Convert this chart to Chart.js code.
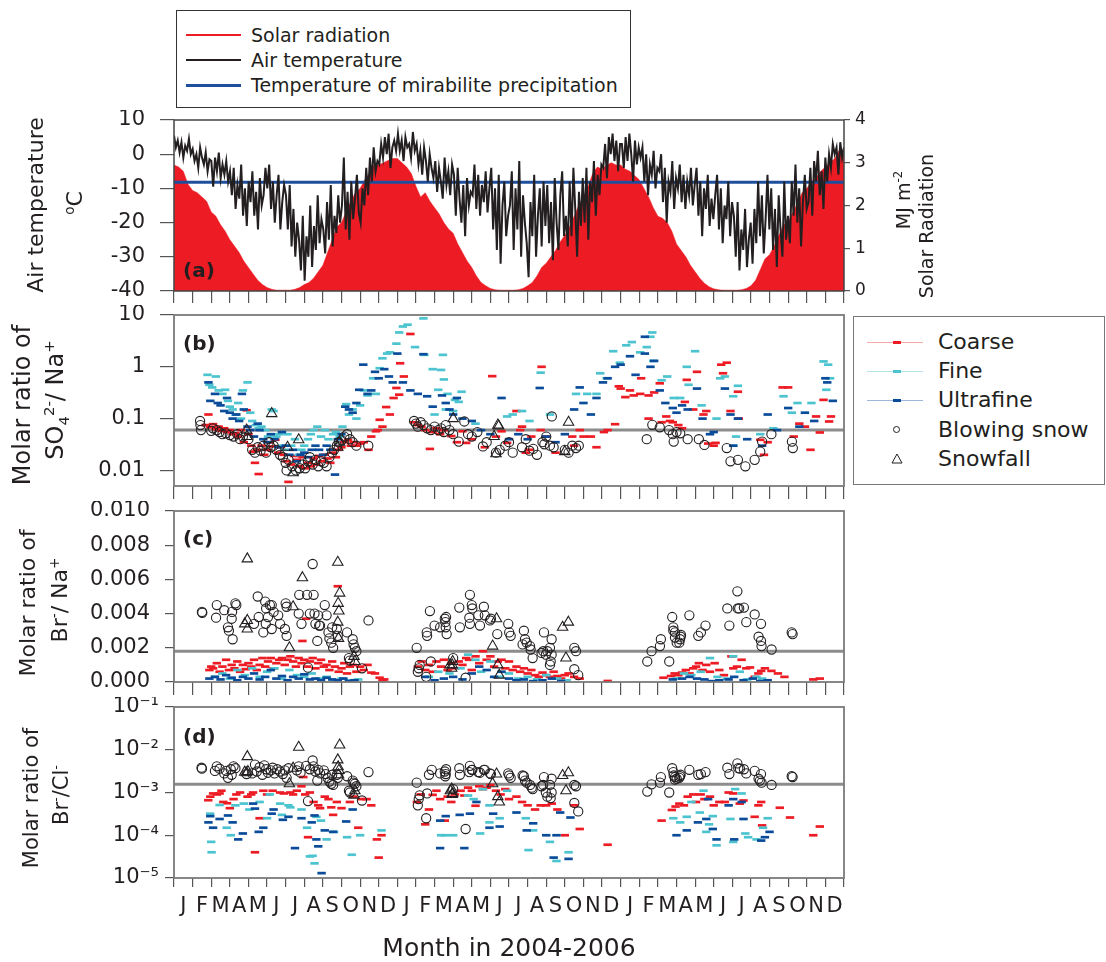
<!DOCTYPE html>
<html><head><meta charset="utf-8">
<script src="https://cdn.jsdelivr.net/npm/chart.js@4.4.1/dist/chart.umd.min.js"></script>
<style>
body{margin:0;background:#fff;width:1106px;height:962px;position:relative;overflow:hidden;font-family:"DejaVu Sans",sans-serif;color:#231f20}
canvas{position:absolute;left:0}
.rot{position:absolute;transform:translate(-50%,-50%) rotate(-90deg);white-space:nowrap;line-height:1}
.lbl{position:absolute;font-weight:bold;font-size:20px;transform:translateY(-50%);line-height:1}
.lg{position:absolute;box-sizing:border-box;background:#fff}
.lt{position:absolute;transform:translateY(-50%);white-space:nowrap;line-height:1}
.ln{position:absolute}
sup,sub{font-size:62%;line-height:0}
</style></head><body>
<canvas id="ca" width="1106" height="200" style="top:110px"></canvas>
<canvas id="cb" width="1106" height="200" style="top:305px"></canvas>
<canvas id="cc" width="1106" height="200" style="top:501px"></canvas>
<canvas id="cd" width="1106" height="265" style="top:697px"></canvas>

<div class="lg" style="left:176px;top:10px;width:455px;height:98px;border:1.6px solid #333"></div>
<div class="ln" style="left:186px;top:34px;width:55px;height:1.5px;background:#ed1c24"></div>
<div class="lt" style="left:251px;top:35px;font-size:19px">Solar radiation</div>
<div class="ln" style="left:186px;top:59px;width:55px;height:1.5px;background:#231f20"></div>
<div class="lt" style="left:251px;top:60px;font-size:19px">Air temperature</div>
<div class="ln" style="left:186px;top:83.5px;width:55px;height:3px;background:#1f4f9c"></div>
<div class="lt" style="left:251px;top:85px;font-size:19px">Temperature of mirabilite precipitation</div>

<div class="lg" style="left:853px;top:316px;width:252px;height:169px;border:1.5px solid #777"></div>
<div class="ln" style="left:867px;top:342px;width:56px;height:1px;background:#f5a9ab"></div>
<div class="ln" style="left:893px;top:341px;width:8px;height:3px;background:#ed1c24"></div>
<div class="lt" style="left:938px;top:342px;font-size:22px">Coarse</div>
<div class="ln" style="left:867px;top:371px;width:56px;height:1px;background:#b3e4ea"></div>
<div class="ln" style="left:893px;top:370px;width:8px;height:3px;background:#4cc4d0"></div>
<div class="lt" style="left:938px;top:371px;font-size:22px">Fine</div>
<div class="ln" style="left:867px;top:400px;width:56px;height:1px;background:#9db8dc"></div>
<div class="ln" style="left:893px;top:399px;width:8px;height:3px;background:#0a4c9a"></div>
<div class="lt" style="left:938px;top:400px;font-size:22px">Ultrafine</div>
<div class="ln" style="left:893px;top:426px;width:7px;height:7px;border:1px solid #231f20;border-radius:50%;box-sizing:border-box"></div>
<div class="lt" style="left:938px;top:430px;font-size:22px">Blowing snow</div>
<svg style="position:absolute;left:891px;top:453px" width="12" height="11"><polygon points="6,1 11,10 1,10" fill="none" stroke="#231f20" stroke-width="1"/></svg>
<div class="lt" style="left:938px;top:459px;font-size:22px">Snowfall</div>

<div class="rot" style="left:36px;top:205px;font-size:22px">Air temperature</div>
<div class="rot" style="left:75px;top:203px;font-size:22px"><sup>o</sup>C</div>
<div class="rot" style="left:903px;top:200px;font-size:19px">MJ m<sup>-2</sup></div>
<div class="rot" style="left:926px;top:226px;font-size:19px">Solar Radiation</div>
<div class="rot" style="left:22px;top:405px;font-size:24px">Molar ratio of</div>
<div class="rot" style="left:55px;top:400px;font-size:24px">SO<sub>4</sub><sup>2-</sup>/ Na<sup>+</sup></div>
<div class="rot" style="left:28px;top:603px;font-size:22px">Molar ratio of</div>
<div class="rot" style="left:60px;top:600px;font-size:22px">Br<sup>-</sup>/ Na<sup>+</sup></div>
<div class="rot" style="left:31px;top:798px;font-size:21px">Molar ratio of</div>
<div class="rot" style="left:61px;top:795px;font-size:21px">Br<sup>-</sup>/Cl<sup>-</sup></div>
<div class="lbl" style="left:183px;top:270px">(a)</div>
<div class="lbl" style="left:183px;top:343px">(b)</div>
<div class="lbl" style="left:183px;top:538px">(c)</div>
<div class="lbl" style="left:183px;top:736px">(d)</div>

<script>
// ---------- axis labels ----------
const monthLetters = ['J','F','M','A','M','J','J','A','S','O','N','D'];
const monthLabels = monthLetters.concat(monthLetters, monthLetters);
const xTitle = 'Month in 2004-2006';
const aTickValues = [-40,-30,-20,-10,0,10];
const a2TickValues = [0,1,2,3,4];
const bTickValues = [0.01,0.1,1,10];
const bTickLabels = ['0.01','0.1','1','10'];
const cTickValues = [0,0.002,0.004,0.006,0.008,0.010];
const cTickLabels = ['0.000','0.002','0.004','0.006','0.008','0.010'];
const dTickValues = [1e-5,1e-4,1e-3,1e-2,1e-1];
const dTickLabels = ['10\u207B\u2075','10\u207B\u2074','10\u207B\u00B3','10\u207B\u00B2','10\u207B\u00B9'];

// ---------- panel (a): air temperature sampled 10 per month, Jan 2004 - Dec 2006 ----------
const airTemp = [
 5.5,2,4,0.5,3.5,-1,2.5,1,4.5,0,  1.5,-2,0,-4,2,-1,-3,0.5,-5,-1.5,  -2,-9.5,-1,-5,0.5,-7,-3,-6,-2,-8,
 -5,-12,-4,-16,-9,-13,-3,-18,-10,-21,  -8,-14,-5,-18,-11,-22,-7,-15,-12,-4,  -10,-3,-16,-8,-20,-12,-6,-22,-14,-9,
 -12,-22,-9,-27,-16,-30,-20,-25,-34,-18,  -37,-24,-30,-15,-33,-21,-28,-12,-26,-19,  -22,-29,-14,-25,-9,-27,-18,-23,-12,-20,
 -15,-1,-22,-11,-25,-8,-19,-13,-6,-17,  -20,-10,-15,-4,-12,-1,-8,2,-5,-2,  -3,3,-1,5,0,6,-4,2,4,1,
 6,1,4,-2,5,2,3,-1,6.5,1,  3,-3,1,-6,2,-2,-8,0,-4,-7,  -2,-11,-4,-8,-13,-1,-9,-5,-12,-3,
 -6,-18,-4,-13,-20,-9,-24,-7,-15,-11,  -12,-3,-16,-6,-18,-9,-14,-5,-17,-10,  -4,-22,-10,-28,-6,-32,-15,-8,-24,-18,
 -15,-5,-28,-10,-22,-2,-30,-12,-20,-26,  -36,-14,-24,-6,-30,-18,-10,-27,-8,-21,  -9,-26,-14,-31,-7,-20,-28,-12,-5,-24,
 -18,-27,-8,-24,-4,-16,-30,-11,-21,-7,  -20,-4,-25,-8,-14,-2,-18,-6,-12,-3,  -4,3,-7,5,0,6,-2,4,-5,3,
 3,-4,5,-2,6,0,-8,4,-3,2,  -1,2,-8,0,-12,-3,-6,1,-10,-4,  -5,0,-14,-4,-20,-8,-11,-2,-16,-7,
 -10,-3,-14,-6,-16,-8,-12,-4,-15,-9,  -4,-18,-8,-24,-10,-16,-6,-21,-13,-19,  -12,-6,-22,-10,-26,-15,-19,-8,-24,-14,
 -18,-30,-14,-34,-22,-28,-16,-33,-25,-20,  -32,-16,-26,-8,-24,-12,-29,-19,-6,-22,  -10,-28,-16,-33,-12,-22,-30,-8,-25,-18,
 -26,-8,-18,-3,-20,-10,-27,-14,-6,-16,  -14,-4,-18,-2,-8,1,-12,-5,-16,-1,  -8,0,-4,3,0,2,-6,3.5,-1,2
];
const solarRad = [
 2.95,2.9,2.8,2.5, 2.35,2.3,2.2,2.1, 1.85,1.75,1.55,1.4, 1.2,1.05,0.9,0.7, 0.55,0.4,0.25,0.15, 0.08,0.04,0.02,0.02,
 0.02,0.02,0.04,0.08, 0.15,0.2,0.3,0.45, 0.6,0.9,1.2,1.5, 1.6,1.85,2.1,2.3, 2.4,2.6,2.75,2.95, 2.95,3.0,3.05,3.1,
 3.1,3.0,2.9,2.75, 2.45,2.2,2.3,2.1, 1.95,1.8,1.6,1.45, 1.35,1.1,0.9,0.7, 0.55,0.35,0.2,0.12, 0.06,0.03,0.02,0.02,
 0.02,0.02,0.03,0.06, 0.12,0.2,0.35,0.55, 0.65,0.8,0.95,1.15, 1.3,1.5,1.75,2.0, 2.2,2.45,2.75,2.9, 2.85,2.95,3.0,2.95,
 2.95,2.85,2.8,2.7, 2.6,2.4,2.2,1.95, 1.75,1.7,1.6,1.4, 1.1,0.95,0.8,0.6, 0.45,0.3,0.18,0.1, 0.05,0.03,0.02,0.02,
 0.02,0.02,0.03,0.06, 0.12,0.25,0.5,0.75, 0.85,1.05,1.3,1.55, 1.6,1.85,2.05,2.3, 2.4,2.55,2.65,2.8, 2.9,3.0,3.1,3.3, 3.3
];
const mirabiliteTemp = -8.2;

// ---------- panel (b): SO4 2- / Na+ ----------
const bCoarse = [[1.70,0.075],[1.85,0.12],[1.95,0.068],[2.10,0.078],[2.25,0.062],[2.40,0.07],[2.55,0.058],[2.70,0.065],[2.85,0.055],[3.00,0.06],[3.15,0.05],[3.30,0.052],[3.45,0.045],[3.60,0.06],[3.75,0.035],[3.90,0.145],[4.00,0.05],[4.15,0.03],[4.25,0.023],[4.35,0.014],[4.45,0.025],[4.55,0.0085],[4.70,0.03],[4.85,0.02],[5.00,0.025],[5.15,0.035],[5.30,0.029],[5.45,0.039],[5.60,0.022],[5.75,0.028],[5.90,0.02],[6.05,0.015],[6.15,0.006],[6.30,0.013],[6.45,0.019],[6.60,0.016],[6.75,0.012],[6.90,0.018],[7.05,0.011],[7.20,0.014],[7.35,0.012],[7.50,0.017],[7.65,0.013],[7.80,0.019],[7.95,0.015],[8.10,0.02],[8.25,0.017],[8.40,0.014],[8.55,0.022],[8.70,0.018],[8.85,0.025],[9.00,0.028],[9.15,0.035],[9.35,0.039],[9.50,0.03],[9.65,0.035],[9.80,0.03],[10.00,0.033],[10.20,0.035],[10.45,0.025],[10.60,0.045],[10.85,0.057],[10.95,0.06],[11.05,0.095],[11.20,0.07],[11.40,0.167],[11.60,0.12],[11.80,0.25],[11.95,0.39],[12.10,0.29],[12.15,1.17],[12.35,0.65],[12.70,4.3],
 [12.90,0.085],[13.10,0.075],[13.30,0.07],[13.50,0.06],[13.75,0.026],[13.90,0.055],[14.10,0.065],[14.30,0.05],[14.50,0.06],[14.90,0.046],[15.20,0.035],[15.50,0.057],[15.70,0.034],[16.00,0.04],[16.70,0.028],[17.10,0.66],[17.30,0.045],[17.60,0.057],[17.90,0.034],[18.40,0.14],[18.60,0.06],[18.70,0.07],[18.90,0.022],[19.10,0.025],[19.20,0.045],[19.70,0.06],[19.75,1.0],[20.00,0.045],[20.50,0.022],[21.40,0.045],[21.50,0.03],[21.80,0.06],[22.00,0.045],[22.40,0.045],[22.70,0.028],[23.10,0.055],[23.30,0.06],[23.70,0.078],
 [23.90,0.42],[24.00,0.38],[24.25,0.26],[24.50,0.35],[24.70,0.28],[25.05,0.3],[25.10,0.6],[25.50,0.28],[25.50,0.1],[25.80,0.32],[26.10,0.48],[26.20,0.085],[26.45,0.11],[26.65,0.09],[26.80,0.085],[27.10,0.075],[27.30,0.065],[27.45,0.21],[27.55,0.56],[27.90,0.15],[28.10,0.8],[28.45,0.12],[28.60,0.14],[28.70,0.033],[29.00,0.03],[29.10,0.034],[29.40,1.1],[29.50,0.75],[29.70,1.2],[29.90,0.14],[30.30,0.33],[30.35,0.1],[31.50,0.039],[31.70,0.02],[31.90,0.035],[32.70,0.4],[33.00,0.4],[33.30,0.045],[33.60,0.08],[33.90,0.07],[34.20,0.025],[34.50,0.11],[34.70,0.054],[34.90,0.23],[35.20,0.088],[35.30,0.11]];
const bFine = [[1.80,0.7],[1.90,0.45],[2.05,0.4],[2.25,0.65],[2.40,0.35],[2.60,0.3],[2.75,0.36],[2.90,0.22],[3.00,0.17],[3.15,0.15],[3.30,0.12],[3.45,0.2],[3.60,0.1],[3.70,0.35],[3.95,0.5],[4.10,0.13],[4.20,0.09],[4.40,0.075],[4.55,0.065],[4.70,0.07],[4.90,0.06],[5.05,0.045],[5.25,0.15],[5.35,0.14],[5.50,0.045],[5.65,0.05],[5.80,0.03],[5.95,0.025],[6.10,0.05],[6.30,0.03],[6.50,0.04],[6.70,0.02],[6.85,0.025],[7.00,0.03],[7.20,0.04],[7.35,0.05],[7.50,0.06],[7.70,0.07],[7.90,0.045],[8.10,0.06],[8.30,0.04],[8.55,0.05],[8.70,0.055],[8.90,0.045],[9.05,0.07],[9.25,0.19],[9.40,0.12],[9.60,0.15],[9.80,0.1],[10.00,0.18],[10.20,0.35],[10.40,0.28],[10.70,0.6],[10.85,0.3],[11.05,0.94],[11.20,1.46],[11.45,1.8],[11.60,1.9],[11.95,2.8],[12.10,4.6],[12.30,6],[12.55,6.5],[12.95,2.4],[13.40,8.6],[13.45,1.7],[13.90,0.9],[14.20,0.36],[14.00,0.12],
 [14.45,1.7],[14.35,0.87],[14.50,0.57],[14.70,0.3],[15.10,0.23],[15.30,0.21],[15.45,0.33],[14.60,0.15],[15.00,0.14],[16.20,0.08],[17.90,0.11],[18.20,0.12],[18.70,0.14],[19.10,0.09],[19.70,0.77],[20.20,0.12],[21.60,0.3],[22.20,0.3],[22.70,0.3],[22.90,0.75],[23.25,0.6],[23.60,2.0],[23.95,1.2],[24.30,2.6],[24.60,3.0],[25.05,1.9],[25.40,2.4],[25.60,3.8],[25.70,4.6],[25.75,1.3],[26.20,0.55],[26.50,0.65],[26.85,0.25],[27.20,0.25],[27.55,1.0],[27.65,0.45],[28.00,2.0],[28.35,0.18],[29.15,0.1],[29.35,0.6],[29.60,0.65],[30.05,0.27],[30.30,0.43],[30.20,0.045],[30.05,0.03],[31.50,0.05],[32.20,0.065],[32.75,0.27],[33.20,0.13],[33.50,0.2],[34.25,0.2],[34.90,1.27],[35.15,1.1],[35.25,0.6],[35.05,0.36]];
const bUltra = [[1.85,0.5],[1.95,0.22],[2.20,0.3],[2.35,0.2],[2.50,0.18],[2.70,0.14],[2.85,0.25],[3.00,0.13],[3.15,0.1],[3.35,0.12],[3.50,0.09],[3.65,0.3],[3.75,0.15],[3.95,0.07],[4.10,0.06],[4.30,0.045],[4.50,0.08],[4.60,0.06],[4.80,0.04],[5.00,0.035],[5.20,0.05],[5.40,0.04],[5.60,0.028],[5.80,0.055],[6.00,0.03],[6.20,0.02],[6.40,0.025],[6.60,0.015],[6.80,0.02],[7.00,0.022],[7.20,0.018],[7.40,0.025],[7.60,0.03],[7.80,0.025],[8.00,0.02],[8.20,0.03],[8.40,0.025],[8.65,0.0083],[8.80,0.04],[9.00,0.05],[9.20,0.17],[9.40,0.15],[9.60,0.13],[9.80,0.2],[9.95,0.36],[10.17,1.1],[10.40,0.3],[10.60,0.35],[10.80,0.8],[11.00,0.6],[11.30,0.9],[11.55,0.65],[11.75,0.5],[12.00,1.8],[12.30,0.5],[12.70,0.35],[13.10,0.3],[13.40,1.75],[13.60,0.27],[13.90,0.17],
 [14.40,0.28],[14.60,0.2],[14.80,0.15],[15.00,0.12],[15.20,0.25],[15.50,0.1],[16.00,0.09],[16.50,0.06],[17.00,0.05],[17.60,0.25],[18.00,0.04],[18.50,0.05],[19.00,0.04],[19.65,0.39],[20.00,0.045],[20.50,0.035],[21.00,0.05],[21.50,0.15],[21.80,0.4],[22.00,0.2],[22.40,0.12],[22.70,0.25],[23.05,0.5],[23.30,0.6],[23.70,1.0],[24.00,1.1],[24.50,1.6],[24.80,0.7],[25.30,3.8],[25.30,1.8],[25.60,1.0],[25.80,1.3],[26.10,0.35],[26.40,0.2],[26.80,0.16],[27.00,0.13],[27.30,0.18],[27.60,0.15],[28.10,0.38],[28.40,0.1],[28.80,0.05],[29.00,0.055],[29.60,0.38],[29.90,0.12],[30.30,0.1],[30.05,0.03],[30.80,0.04],[31.60,0.03],[31.90,0.12],[32.40,0.06],[33.00,0.16],[33.60,0.07],[33.90,0.13],[34.40,0.09],[35.00,0.6],[35.10,0.5],[35.40,0.22]];
const bSnow = [[1.40,0.09],[1.42,0.075],[1.45,0.06],[2.00,0.058],[2.10,0.065],[2.30,0.06],[2.45,0.055],[2.60,0.05],[2.80,0.052],[3.00,0.048],[3.20,0.045],[3.40,0.05],[3.55,0.04],[3.70,0.045],[4.00,0.04],[4.20,0.025],[4.35,0.022],[4.50,0.028],[4.65,0.024],[4.80,0.03],[4.95,0.022],[5.10,0.035],[5.20,0.028],[5.35,0.03],[5.50,0.025],[5.70,0.02],[5.85,0.018],[6.00,0.014],[6.05,0.01],[6.15,0.016],[6.35,0.012],[6.55,0.01],[6.75,0.011],[6.90,0.013],[7.05,0.011],[7.20,0.015],[7.30,0.018],[7.45,0.013],[7.60,0.016],[7.75,0.012],[7.90,0.015],[8.05,0.014],[8.20,0.012],[8.35,0.018],[8.50,0.022],[8.60,0.025],[8.75,0.03],[8.85,0.035],[9.00,0.038],[9.15,0.045],[9.30,0.05],[9.45,0.04],[9.60,0.035],[9.80,0.03],[10.44,0.03],
 [12.90,0.09],[13.00,0.08],[13.10,0.07],[13.25,0.085],[13.40,0.075],[13.60,0.065],[13.80,0.06],[14.00,0.07],[14.20,0.06],[14.35,0.065],[14.50,0.055],[14.60,0.075],[14.80,0.06],[15.00,0.05],[15.30,0.036],[15.60,0.088],[15.80,0.05],[16.00,0.045],[16.30,0.055],[16.60,0.029],[16.80,0.035],[17.30,0.022],[17.50,0.025],[17.80,0.03],[18.00,0.035],[18.20,0.022],[18.70,0.028],[18.90,0.04],[19.10,0.024],[19.30,0.026],[19.50,0.02],[19.80,0.035],[19.90,0.032],[20.00,0.045],[20.20,0.03],[20.30,0.11],[20.40,0.028],[21.00,0.025],[21.20,0.022],[21.40,0.03],[21.60,0.027],[21.75,0.03],
 [25.40,0.04],[25.70,0.076],[26.10,0.068],[26.60,0.06],[26.80,0.05],[26.85,0.036],[27.00,0.055],[27.20,0.052],[27.60,0.04],[28.20,0.04],[28.50,0.031],[29.70,0.027],[29.90,0.015],[30.30,0.016],[30.70,0.012],[31.20,0.016],[31.50,0.023],[31.60,0.036],[32.10,0.05],[33.20,0.036],[33.25,0.027]];
const bFall = [[3.90,0.06],[3.92,0.045],[5.25,0.125],[6.10,0.028],[6.40,0.009],[6.70,0.039],[8.80,0.028],[8.90,0.035],[15.00,0.1],[17.20,0.045],[17.30,0.021],[17.40,0.075],[17.45,0.072],[21.00,0.023],[21.20,0.085]];
const bRef = 0.06;

// ---------- panel (c): Br- / Na+ ----------
const cCoarse = [[1.90,0.0007],[2.00,0.0009],[2.10,0.0008],[2.30,0.0011],[2.45,0.0006],[2.60,0.0009],[2.80,0.0013],[2.95,0.0007],[3.10,0.001],[3.25,0.0008],[3.40,0.0012],[3.55,0.0006],[3.70,0.001],[3.85,0.00075],[4.00,0.0011],[4.15,0.0009],[4.30,0.0013],[4.45,0.0007],[4.60,0.001],[4.75,0.0014],[4.90,0.0009],[5.05,0.0012],[5.20,0.0014],[5.35,0.0008],[5.50,0.0011],[5.65,0.0013],[5.80,0.0014],[5.95,0.001],[6.10,0.0013],[6.25,0.0015],[6.40,0.0012],[6.55,0.0009],[6.70,0.0014],[6.85,0.0011],[6.90,0.0024],[7.00,0.0013],[7.10,0.0037],[7.15,0.0009],[7.30,0.0012],[7.45,0.0014],[7.60,0.0008],[7.75,0.0011],[7.90,0.0013],[8.05,0.0009],[8.20,0.001],[8.35,0.0007],[8.50,0.0012],[8.65,0.0009],[8.80,0.0056],[8.85,0.0006],[9.00,0.0008],[9.15,0.0011],[9.30,0.0005],[9.45,0.0009],[9.60,0.001],[9.80,0.0006],[10.00,0.0009],[10.20,0.0007],[10.40,0.001],[10.60,0.00055],[10.80,0.0005],[11.05,0.00025],[11.20,0.0001],[11.30,0.00015],
 [13.10,0.0009],[13.30,0.0012],[13.50,0.0007],[13.70,0.001],[13.90,0.0006],[14.10,0.0012],[14.35,0.0009],[14.50,0.0013],[14.70,0.0007],[14.90,0.0011],[15.10,0.0008],[15.30,0.0012],[15.50,0.001],[15.70,0.0014],[15.85,0.0013],[16.00,0.0007],[16.20,0.0015],[16.40,0.0011],[16.60,0.0018],[16.80,0.0013],[17.00,0.0015],[17.20,0.0009],[17.40,0.0012],[17.60,0.0013],[17.80,0.0008],[18.00,0.0012],[18.20,0.0007],[18.40,0.0009],[18.60,0.0006],[18.80,0.0008],[19.00,0.0005],[19.20,0.0007],[19.40,0.0004],[19.60,0.0003],[19.80,0.00055],[20.00,0.0004],[20.20,0.0003],[20.40,0.0006],[20.60,0.00035],[20.80,0.0002],[21.00,0.0004],[21.20,0.0005],[21.50,0.0003],[21.80,0.0002],[23.30,0.00006],
 [26.30,0.00025],[26.70,0.00035],[26.90,0.0005],[27.10,0.0004],[27.30,0.00055],[27.50,0.0007],[27.70,0.0005],[27.90,0.0008],[28.05,0.0009],[28.20,0.0011],[28.40,0.0007],[28.60,0.001],[28.80,0.0006],[29.05,0.0011],[29.30,0.0007],[29.55,0.0004],[29.95,0.0015],[30.05,0.0008],[30.25,0.0009],[30.50,0.0013],[30.75,0.0008],[30.95,0.00085],[31.20,0.0003],[31.40,0.0005],[31.55,0.00065],[31.75,0.0008],[32.10,0.00065],[32.45,0.0005],[32.80,0.0003],[34.35,0.00015],[34.70,0.0002]];
const cFine = [[2.20,0.0003],[2.60,0.0005],[3.00,0.0002],[3.40,0.0007],[3.80,0.0004],[4.20,0.0008],[4.60,0.0003],[5.00,0.0006],[5.40,0.0008],[5.80,0.0002],[6.20,0.0007],[6.60,0.0004],[7.00,0.0003],[7.40,0.0005],[7.80,0.0002],[8.20,0.0003],[8.60,0.0001],[9.00,0.0002],[9.40,0.0001],[9.90,0.00015],
 [13.70,0.0003],[14.20,0.0006],[14.80,0.0005],[15.40,0.0008],[15.80,0.0016],[16.20,0.0013],[16.50,0.0006],[17.00,0.0012],[17.50,0.0003],[18.00,0.0005],[18.50,0.0002],[19.00,0.0003],[19.50,0.00015],[20.00,0.0004],[20.60,0.0002],[21.10,0.0001],
 [27.00,0.0002],[27.40,0.0005],[27.80,0.0004],[28.30,0.0006],[28.80,0.0014],[29.20,0.0003],[29.70,0.0002],[30.05,0.0015],[30.40,0.0006],[30.80,0.00015],[31.30,0.0003],[31.60,0.0002]];
const cUltra = [[1.90,0.0002],[2.20,0.0003],[2.50,0.00015],[2.80,0.0004],[3.10,0.00025],[3.40,0.0001],[3.70,0.0003],[4.00,0.0002],[4.30,0.0005],[4.60,0.00015],[4.90,0.0003],[5.20,0.0007],[5.50,0.0002],[5.80,0.00035],[6.10,0.0001],[6.40,0.0003],[6.70,0.0002],[7.00,0.00045],[7.30,0.00015],[7.60,0.0002],[7.90,0.0001],[8.20,0.00025],[8.50,0.00015],[8.80,0.0001],[9.10,0.0002],[9.40,0.00005],[9.70,0.0001],
 [13.50,0.0003],[14.00,0.0001],[14.50,0.0002],[15.00,0.0003],[15.50,0.00015],[16.00,0.0005],[16.40,0.0009],[16.80,0.0007],[17.20,0.0003],[17.60,0.0006],[18.00,0.0002],[18.40,0.0001],[18.80,0.00015],[19.30,0.00005],[19.80,0.0001],[20.30,0.0002],[20.80,0.00005],
 [26.80,0.00015],[27.30,0.0002],[27.70,0.0003],[28.10,0.0002],[28.50,0.00015],[28.90,0.00005],[29.30,0.0001],[29.80,0.00015],[30.10,0.0003],[30.60,0.0001],[31.10,0.0002],[31.50,0.00005],[31.90,0.0001]];
const cSnow = [[1.50,0.0041],[1.52,0.00405],[2.30,0.0045],[2.26,0.00376],[2.70,0.0042],[2.90,0.0032],[2.95,0.003],[3.10,0.0037],[3.12,0.0041],[3.15,0.0025],[3.30,0.0046],[3.35,0.0045],[4.30,0.0034],[4.50,0.005],[4.55,0.0038],[4.80,0.0029],[4.90,0.0047],[4.95,0.0043],[4.93,0.0034],[5.05,0.0038],[5.15,0.0045],[5.25,0.0045],[5.25,0.0031],[5.35,0.0041],[5.60,0.0039],[5.70,0.0034],[5.96,0.0031],[6.00,0.0046],[6.05,0.0027],[6.05,0.0044],[6.70,0.004],[6.73,0.0051],[6.85,0.0034],[7.15,0.0051],[7.20,0.00084],[7.30,0.004],[7.45,0.0069],[7.50,0.0051],[7.55,0.004],[7.60,0.0034],[7.70,0.0024],[7.75,0.0039],[7.80,0.0033],[7.85,0.0033],[8.10,0.0045],[8.20,0.0039],[8.30,0.0029],[8.35,0.00255],[8.45,0.0023],[8.50,0.0032],[8.55,0.002],[8.75,0.0031],[8.80,0.0027],[9.30,0.0029],[9.40,0.0014],[9.45,0.00125],[9.60,0.0025],[9.65,0.0022],[9.72,0.002],[9.80,0.0018],[10.10,0.0008],[10.45,0.0036],
 [13.04,0.002],[13.10,0.0006],[13.15,0.0008],[13.20,0.001],[13.58,0.0029],[13.60,0.0027],[13.55,0.0003],[13.75,0.00415],[13.80,0.0012],[14.00,0.0033],[14.30,0.0032],[14.55,0.0037],[14.58,0.0035],[14.62,0.0038],[14.65,0.0028],[14.60,0.0032],[15.00,0.0014],[15.33,0.00435],[15.36,0.0032],[15.67,0.00025],[15.87,0.00376],[15.90,0.0051],[15.90,0.0034],[16.03,0.0043],[16.00,0.0045],[16.35,0.0039],[16.44,0.0033],[16.70,0.0039],[16.65,0.0044],[16.98,0.0036],[17.03,0.0037],[17.37,0.0028],[17.96,0.0034],[18.01,0.0029],[18.09,0.0027],[18.73,0.0022],[18.80,0.003],[18.86,0.0025],[18.95,0.0023],[19.13,0.0021],[19.16,0.0019],[19.27,0.0014],[19.75,0.0017],[19.84,0.0018],[19.88,0.0029],[19.98,0.0016],[20.06,0.0018],[20.20,0.002],[20.29,0.0025],[20.24,0.0012],[20.20,0.001],[20.29,0.0016],[21.51,0.002],[21.60,0.0018],[21.51,0.00075],[21.72,0.0004],
 [25.43,0.0012],[25.66,0.0018],[26.11,0.0021],[26.16,0.0025],[26.61,0.0012],[26.77,0.0038],[26.83,0.0032],[26.83,0.003],[26.92,0.0029],[26.92,0.0026],[27.01,0.0023],[27.15,0.0023],[27.22,0.00265],[27.24,0.00275],[27.19,0.0025],[27.69,0.0039],[28.17,0.0027],[28.31,0.0029],[28.56,0.0033],[29.73,0.0043],[29.84,0.0033],[30.27,0.0053],[30.29,0.0043],[30.37,0.0043],[30.62,0.00435],[30.75,0.0035],[31.20,0.00395],[31.41,0.00265],[31.54,0.0024],[31.57,0.0021],[31.54,0.0034],[32.11,0.0019],[33.19,0.0029],[33.24,0.0028]];
const cFall = [[3.94,0.0072],[3.80,0.0034],[3.94,0.0036],[3.94,0.0031],[6.40,0.0044],[6.20,0.002],[6.90,0.0061],[8.80,0.007],[8.90,0.0052],[8.82,0.0046],[8.86,0.00415],[8.80,0.0035],[8.84,0.00255],[9.67,0.0015],[9.72,0.0012],[14.92,0.0008],[14.95,0.001],[14.97,0.0012],[14.83,0.001],[17.12,0.0021],[17.33,0.0037],[17.40,0.001],[17.48,0.0004],[20.88,0.0032],[21.19,0.0035],[21.06,0.0014]];
const cRef = 0.0018;

// ---------- panel (d): Br- / Cl- ----------
const dCoarse = [[1.84,0.00066],[1.95,0.0008],[2.10,0.00095],[2.30,0.0009],[2.45,0.00095],[2.55,0.0011],[2.65,0.0006],[2.85,0.00056],[3.00,0.00043],[3.20,0.0007],[3.35,0.0009],[3.55,0.001],[3.95,0.0008],[4.15,0.0009],[4.25,0.001],[4.35,0.00004],[4.60,0.00025],[4.80,0.0011],[5.00,0.0009],[5.30,0.0011],[5.70,0.001],[5.90,0.00095],[6.25,0.001],[6.40,0.0009],[6.60,0.0011],[6.85,0.0014],[6.95,0.0023],[7.05,0.0009],[7.30,0.001],[7.20,0.00009],[7.50,0.0006],[7.75,0.0005],[7.85,0.00043],[8.10,0.0008],[8.30,0.0007],[8.45,0.00045],[8.55,0.0003],[8.75,0.0006],[9.00,0.00043],[9.45,0.0006],[9.65,0.0008],[9.90,0.00015],[10.10,0.0007],[10.35,0.0007],[10.60,0.0005],[10.90,0.00008],[11.00,0.00003],[11.15,0.0001],
 [13.05,0.0006],[13.25,0.0009],[13.50,0.00018],[13.70,0.0004],[13.90,0.00088],[14.10,0.0011],[14.30,0.0007],[14.55,0.00022],[14.70,0.0008],[14.90,0.0006],[15.10,0.0009],[15.40,0.0011],[15.60,0.00085],[15.80,0.0013],[16.00,0.0011],[16.20,0.00049],[16.40,0.0014],[16.60,0.0012],[16.80,0.0013],[17.00,0.0015],[17.30,0.0011],[17.55,0.0009],[17.80,0.0012],[18.00,0.0007],[18.40,0.0008],[18.70,0.0006],[19.00,0.0005],[19.40,0.0004],[19.70,0.0005],[20.00,0.0005],[20.30,0.00055],[20.60,0.0004],[21.00,0.0001],[21.50,0.0005],[21.80,0.00014],[23.30,0.00006],
 [26.20,0.00022],[26.75,0.00039],[26.95,0.00047],[27.15,0.00055],[27.40,0.0005],[27.60,0.0008],[27.90,0.0009],[28.05,0.0006],[28.30,0.0009],[28.50,0.0007],[28.80,0.0008],[29.00,0.0005],[29.30,0.0006],[29.60,0.0006],[29.80,0.001],[30.05,0.00095],[30.40,0.00055],[30.60,0.00065],[31.20,0.00027],[31.40,0.0005],[31.55,0.0006],[31.60,0.00017],[32.55,0.00044],[33.10,0.00026],[34.35,0.0001],[34.70,0.00016]];
const dFine = [[1.94,0.00032],[2.00,0.00007],[2.02,0.00004],[2.45,0.00051],[2.83,0.00015],[3.05,0.0001],[3.30,0.0005],[3.75,0.00055],[4.05,0.0004],[4.60,0.0006],[5.00,0.00025],[5.15,0.0009],[5.70,0.00055],[5.80,0.0003],[6.15,0.0005],[6.25,0.00045],[6.85,0.0004],[7.15,0.00015],[7.30,0.000032],[7.45,0.000033],[7.55,0.000022],[7.65,0.00027],[7.90,0.00022],[8.20,0.00008],[8.60,0.00012],[9.30,0.00009],[9.55,0.000035],[10.00,0.0001],[11.15,0.00013],
 [14.35,0.0001],[14.55,0.0001],[15.00,0.0001],[15.80,0.00085],[16.10,0.0007],[16.60,0.0012],[16.45,0.00011],[16.95,0.0002],[17.50,0.00025],[17.90,0.0011],[16.95,0.0005],[18.90,0.00025],[19.05,0.000045],[19.30,0.00013],[20.20,0.00007],[20.55,0.000025],[21.20,0.00004],
 [26.83,0.00025],[27.20,0.0002],[27.55,0.00027],[27.80,0.0006],[28.25,0.00034],[28.45,0.0011],[28.60,0.00012],[28.75,0.00018],[28.95,0.00028],[29.15,0.000058],[29.90,0.00024],[30.05,0.00007],[30.15,0.0012],[30.50,0.00095],[30.70,0.00011],[30.85,0.00009],[31.30,0.00008],[31.65,0.00015],[31.90,0.00025]];
const dUltra = [[1.85,0.0002],[1.95,0.00028],[2.10,0.00015],[2.45,0.00024],[2.90,0.00029],[3.15,0.0002],[3.45,0.00008],[3.70,0.00011],[4.25,0.00055],[4.35,0.00042],[4.55,0.00012],[4.80,0.00015],[5.25,0.00032],[5.35,0.0004],[5.85,0.00023],[6.15,0.00027],[6.50,0.00005],[6.85,0.00025],[7.40,0.0002],[7.55,0.00029],[7.65,0.00008],[7.75,0.000055],[7.93,0.000013],[8.10,0.00013],[8.55,0.00012],[9.25,0.00021],[9.60,0.0004],
 [14.30,0.00022],[14.60,0.00028],[14.30,0.00005],[15.35,0.0003],[15.60,0.00005],[15.90,0.00032],[16.25,0.0006],[16.95,0.00015],[17.15,0.00032],[17.50,0.00016],[18.40,0.00034],[18.95,0.00013],[19.30,0.00019],[20.00,0.0001],[20.40,0.00003],[20.55,0.0001],[20.75,0.00034],[21.20,0.000028],[21.30,0.00026],
 [27.00,0.0001],[27.55,0.00013],[28.15,0.0002],[28.60,0.00024],[28.70,0.0007],[28.95,0.00014],[29.15,0.00008],[29.80,0.0005],[30.05,0.0007],[30.10,0.00008],[30.50,0.0006],[30.60,0.00024],[31.55,0.000075],[31.75,0.00009],[32.00,0.00012]];
const dSnow = [[1.48,0.0038],[1.50,0.0036],[2.20,0.0032],[2.30,0.0041],[2.45,0.0036],[2.70,0.0028],[2.80,0.0032],[2.90,0.0022],[3.05,0.0035],[3.10,0.0026],[3.20,0.0041],[3.30,0.0037],[3.90,0.0027],[4.20,0.0028],[4.35,0.0045],[4.45,0.0031],[4.60,0.0039],[4.75,0.0026],[4.85,0.0043],[4.95,0.0035],[5.05,0.0029],[5.20,0.0033],[5.30,0.0038],[5.40,0.0028],[5.55,0.0035],[5.70,0.0031],[5.85,0.0027],[5.95,0.0033],[6.05,0.0022],[6.15,0.0037],[6.60,0.0033],[6.70,0.0041],[6.80,0.0029],[7.10,0.0042],[7.20,0.00063],[7.30,0.0035],[7.45,0.0056],[7.50,0.0041],[7.60,0.0031],[7.70,0.0019],[7.75,0.0034],[7.85,0.0028],[8.05,0.0033],[8.15,0.0027],[8.25,0.0022],[8.35,0.0018],[8.45,0.0016],[8.50,0.0026],[8.55,0.0015],[8.75,0.0026],[8.80,0.0022],[9.30,0.0024],[9.40,0.0011],[9.45,0.001],[9.60,0.0019],[9.65,0.0017],[9.72,0.0016],[9.80,0.0014],[10.10,0.00065],[10.45,0.003],
 [13.04,0.0017],[13.10,0.0005],[13.15,0.0007],[13.20,0.00086],[13.55,0.00025],[13.60,0.00095],[13.70,0.0026],[13.85,0.0034],[14.30,0.0028],[14.55,0.0031],[14.58,0.0024],[14.62,0.0035],[14.60,0.0027],[15.00,0.0012],[15.33,0.0037],[15.36,0.0026],[15.67,0.00014],[15.87,0.003],[15.90,0.0042],[16.00,0.0034],[16.03,0.0034],[16.35,0.003],[16.44,0.0029],[16.65,0.0034],[16.70,0.0034],[16.98,0.0028],[17.03,0.0027],[17.96,0.0028],[18.01,0.0025],[18.09,0.0022],[18.73,0.0025],[18.80,0.0024],[18.86,0.0019],[18.95,0.0017],[19.13,0.0015],[19.22,0.0013],[19.27,0.0012],[19.75,0.0014],[19.84,0.0015],[19.88,0.0023],[19.98,0.001],[20.06,0.0008],[20.20,0.0015],[20.29,0.0021],[20.24,0.00074],[20.29,0.001],[21.51,0.0015],[21.60,0.0014],[21.51,0.00057],[21.72,0.00036],
 [25.43,0.00105],[25.66,0.00155],[26.11,0.0017],[26.16,0.0023],[26.61,0.001],[26.77,0.0037],[26.83,0.003],[26.85,0.0025],[26.92,0.0023],[26.92,0.002],[27.01,0.0021],[27.15,0.0022],[27.22,0.0026],[27.19,0.0024],[27.69,0.0034],[28.17,0.0026],[28.31,0.0027],[28.56,0.003],[29.73,0.0038],[29.84,0.0027],[30.27,0.0048],[30.32,0.0037],[30.41,0.0036],[30.62,0.0035],[30.75,0.0028],[31.20,0.0032],[31.41,0.0021],[31.48,0.0019],[31.57,0.0017],[31.54,0.0027],[32.11,0.0015],[33.19,0.0024],[33.24,0.0023]];
const dFall = [[3.94,0.0069],[3.80,0.003],[3.90,0.0029],[3.97,0.0031],[6.70,0.0114],[6.20,0.0016],[6.40,0.0037],[8.90,0.0129],[8.80,0.0058],[8.82,0.004],[8.86,0.0033],[8.84,0.0026],[9.67,0.00087],[9.72,0.0011],[14.92,0.0012],[14.95,0.0009],[14.97,0.00095],[14.85,0.0011],[17.12,0.0016],[17.33,0.0027],[17.40,0.0008],[17.48,0.0006],[20.88,0.0025],[21.19,0.0029],[21.06,0.0011]];
const dRef = 0.00155;

// ---------- styling ----------
const FONT = 'DejaVu Sans';
const TXT = '#231f20';
const AX = '#555';
const RED = '#ed1c24', CYAN = '#4cc4d0', NAVY = '#0a4c9a', GREY = '#8c8c8c';
Chart.defaults.font.family = FONT;
Chart.defaults.color = TXT;

const monthEdges = monthLabels.map((_, i) => i).concat([monthLabels.length]);
const XMAX = monthLabels.length;

const framePlugin = {
  id: 'frame',
  afterDatasetsDraw(chart, args, o) {
    const {ctx, chartArea: a} = chart;
    ctx.save(); ctx.strokeStyle = o.color; ctx.lineWidth = o.width;
    ctx.strokeRect(a.left, a.top, a.right - a.left, a.bottom - a.top);
    ctx.restore();
  }
};
function noPad(s) { s.paddingTop = 0; s.paddingBottom = 0; s.paddingLeft = 0; s.paddingRight = 0; }

function tickX(len, h) {
  return { type: 'linear', min: 0, max: XMAX, position: 'bottom', weight: 0,
    afterBuildTicks: s => { s.ticks = monthEdges.map(v => ({value: v})); },
    ticks: {display: false},
    grid: {drawOnChartArea: false, drawTicks: true, tickLength: len, color: AX, lineWidth: 1.2},
    border: {display: false},
    afterFit: s => { s.height = h; noPad(s); } };
}
function leftY(extra, len, pad, values, labels) {
  return Object.assign({ position: 'left',
    afterBuildTicks: s => { s.ticks = values.map(v => ({value: v})); },
    ticks: {font: {size: 21, family: FONT}, color: TXT, padding: pad, autoSkip: false,
      callback: (v, i) => labels[i]},
    grid: {drawOnChartArea: false, drawTicks: true, tickLength: len, color: AX, lineWidth: 1.2},
    border: {display: false},
    afterFit: s => { s.width = 174; noPad(s); } }, extra);
}
const pts = arr => arr.map(p => ({x: p[0], y: p[1]}));
function dashes(label, arr, color) {
  return {type: 'scatter', label, data: pts(arr), pointStyle: 'line', pointRadius: 4.2,
    pointBorderColor: color, pointBackgroundColor: color, pointBorderWidth: 2.7, borderColor: color};
}
function circles(arr) {
  return {type: 'scatter', label: 'Blowing snow', data: pts(arr), pointStyle: 'circle', pointRadius: 4.6,
    pointBorderColor: TXT, pointBackgroundColor: 'rgba(0,0,0,0)', pointBorderWidth: 1.1};
}
function triangles(arr) {
  return {type: 'scatter', label: 'Snowfall', data: pts(arr), pointStyle: 'triangle', pointRadius: 6,
    pointBorderColor: TXT, pointBackgroundColor: 'rgba(0,0,0,0)', pointBorderWidth: 1.1};
}
function refLine(v) {
  return {type: 'line', label: 'ref', data: [{x: 0, y: v}, {x: XMAX, y: v}], borderColor: GREY,
    borderWidth: 3, pointRadius: 0, fill: false};
}
const base = {responsive: false, animation: false, events: [],
  plugins: {legend: {display: false}, tooltip: {enabled: false}}};

// ---------- panel (a) ----------
new Chart(document.getElementById('ca'), {
  data: { datasets: [
    {type: 'line', label: 'Air temperature', yAxisID: 'y', data: airTemp.map((t, i) => ({x: i * XMAX / (airTemp.length - 1), y: t})),
      borderColor: TXT, borderWidth: 2, pointRadius: 0, tension: 0, fill: false},
    {type: 'line', label: 'Temperature of mirabilite precipitation', yAxisID: 'y',
      data: [{x: 0, y: mirabiliteTemp}, {x: XMAX, y: mirabiliteTemp}], borderColor: '#1f4f9c', borderWidth: 3, pointRadius: 0},
    {type: 'line', label: 'Solar radiation', yAxisID: 'y2', data: solarRad.map((r, i) => ({x: i * XMAX / (solarRad.length - 1), y: r})),
      borderColor: RED, backgroundColor: RED, borderWidth: 0.5, pointRadius: 0, fill: 'origin', tension: 0}
  ]},
  options: Object.assign({}, base, {
    layout: {padding: {top: 10, left: 0, right: 0, bottom: 0}},
    plugins: Object.assign({}, base.plugins, {frame: {color: '#444', width: 1.5}}),
    scales: {
      x: tickX(12, 19),
      y: leftY({type: 'linear', min: -40, max: 10}, 14, 15, aTickValues, aTickValues.map(String)),
      y2: {type: 'linear', position: 'right', min: 0, max: 4,
        afterBuildTicks: s => { s.ticks = a2TickValues.map(v => ({value: v})); },
        ticks: {font: {size: 17, family: FONT}, color: TXT, padding: 5},
        grid: {drawOnChartArea: false, drawTicks: true, tickLength: 6, color: AX, lineWidth: 1.2},
        border: {display: false},
        afterFit: s => { s.width = 262; noPad(s); } }
    }
  }),
  plugins: [framePlugin]
});

// ---------- scatter panels ----------
function scatterPanel(id, yscale, len, pad, values, labels, sets, ref, withMonths) {
  const scales = { x: withMonths ? tickX(9, 10) : tickX(13, 19),
    y: leftY(yscale, len, pad, values, labels) };
  if (withMonths) {
    scales.xl = { type: 'linear', min: 0, max: XMAX, position: 'bottom', weight: 1,
      afterBuildTicks: s => { s.ticks = monthLabels.map((_, i) => ({value: i + 0.5})); },
      ticks: {autoSkip: false, maxRotation: 0, padding: 6, font: {size: 21, family: FONT}, color: TXT,
        callback: (v, i) => monthLabels[i]},
      grid: {display: false, drawTicks: false}, border: {display: false},
      title: {display: true, text: xTitle, font: {size: 25, family: FONT, lineHeight: 1}, color: TXT, padding: 0},
      afterFit: s => { s.height = 74; noPad(s); } };
  }
  new Chart(document.getElementById(id), {
    data: {datasets: [circles(sets.snow), triangles(sets.fall),
      dashes('Ultrafine', sets.ultra, NAVY), dashes('Fine', sets.fine, CYAN), dashes('Coarse', sets.coarse, RED),
      refLine(ref)]},
    options: Object.assign({}, base, {
      layout: {padding: {top: 10, left: 0, right: 262, bottom: 0}},
      plugins: Object.assign({}, base.plugins, {frame: {color: '#7a7a7a', width: 1.8}}),
      scales
    }),
    plugins: [framePlugin]
  });
}
scatterPanel('cb', {type: 'logarithmic', min: 0.005, max: 10}, 14, 15, bTickValues, bTickLabels,
  {coarse: bCoarse, fine: bFine, ultra: bUltra, snow: bSnow, fall: bFall}, bRef, false);
scatterPanel('cc', {type: 'linear', min: 0, max: 0.01}, 9, 15, cTickValues, cTickLabels,
  {coarse: cCoarse, fine: cFine, ultra: cUltra, snow: cSnow, fall: cFall}, cRef, false);
scatterPanel('cd', {type: 'logarithmic', min: 1e-5, max: 1e-1}, 9, 6, dTickValues, dTickLabels,
  {coarse: dCoarse, fine: dFine, ultra: dUltra, snow: dSnow, fall: dFall}, dRef, true);
</script>
</body></html>
